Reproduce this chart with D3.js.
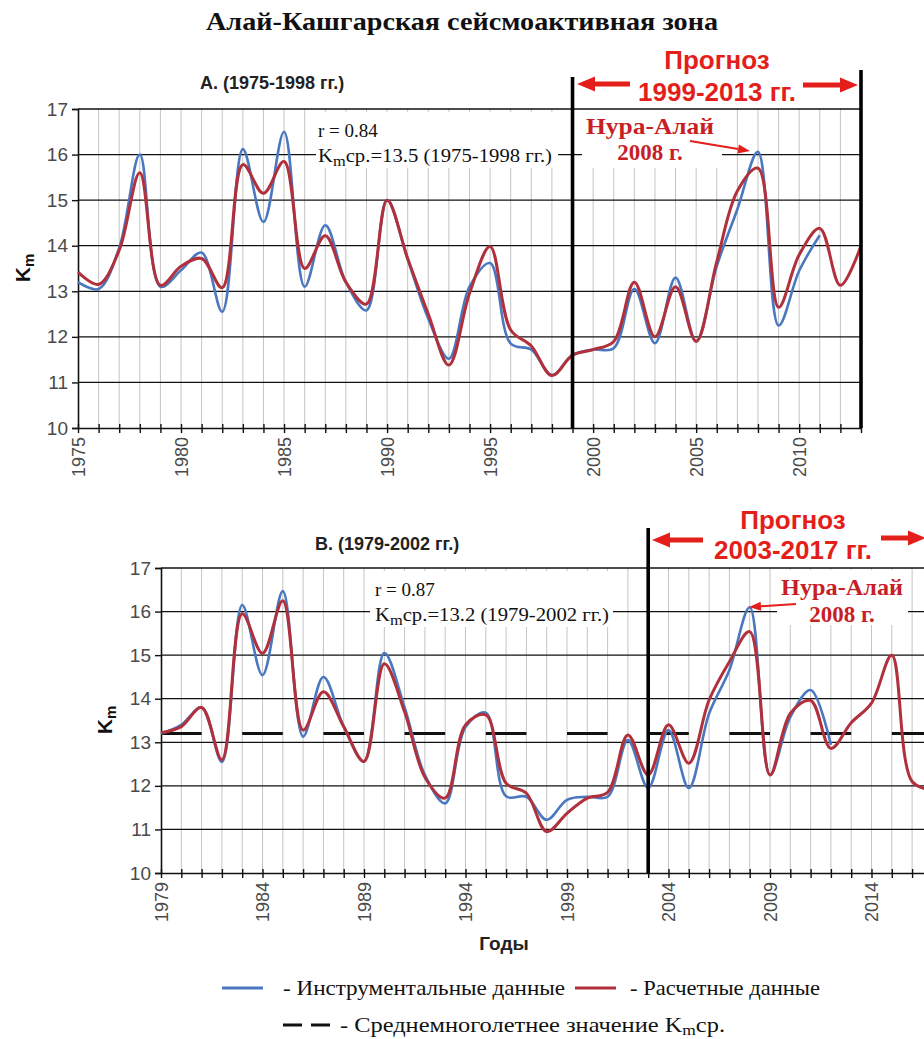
<!DOCTYPE html>
<html>
<head>
<meta charset="utf-8">
<script src="https://cdn.jsdelivr.net/npm/d3@7"></script>
<style>
  body { margin: 0; background: #fff; }
  svg { display: block; }
  .legend-text { font-family: 'Liberation Serif', 'Times New Roman', serif; font-size: 21px; fill: #111; }
</style>
</head>
<body>
<svg id="chart" width="924" height="1039"></svg>
<script>
// ---- Data ----
// Panel A: fit period 1975-1998, forecast 1999-2013
const yearsA = d3.range(1975, 2014);
const measuredA = [13.2, 13.05, 13.95, 16.0, 13.1, 13.46, 13.85, 12.55, 16.12, 14.52,
  16.5, 13.1, 14.45, 13.2, 12.58, 15.0, 13.7, 12.4, 11.52, 13.1,
  13.62, 11.85, 11.72, 11.16, 11.6, 11.72, 11.75, 13.05, 11.86, 13.3,
  11.9, 13.55, 14.8, 16.06, 12.25, 13.45, 14.23];
const modelA = [13.42, 13.15, 13.9, 15.6, 13.13, 13.55, 13.72, 13.08, 15.78, 15.15,
  15.85, 13.5, 14.22, 13.2, 12.72, 15.0, 13.72, 12.5, 11.38, 12.95,
  13.98, 12.15, 11.8, 11.15, 11.6, 11.72, 11.9, 13.2, 12.0, 13.1,
  11.9, 13.65, 15.2, 15.7, 12.65, 13.8, 14.38, 13.13, 14.0];

// Panel B: fit period 1979-2002, forecast 2003-2017
const yearsB = d3.range(1979, 2018);
const measuredB = [13.2, 13.4, 13.8, 12.55, 16.15, 14.54, 16.47, 13.13, 14.5, 13.36,
  12.56, 15.05, 13.8, 12.25, 11.6, 13.35, 13.68, 11.76, 11.75, 11.22,
  11.68, 11.75, 11.75, 13.05, 11.95, 13.28, 11.95, 13.66, 14.66, 16.1,
  12.25, 13.58, 14.2, 12.94];
const modelB = [13.22, 13.36, 13.8, 12.6, 15.95, 15.04, 16.25, 13.28, 14.16, 13.36,
  12.56, 14.8, 13.7, 12.2, 11.72, 13.4, 13.63, 12.06, 11.83, 10.95,
  11.37, 11.72, 11.85, 13.17, 12.25, 13.4, 12.52, 13.97, 14.85, 15.54,
  12.25, 13.66, 13.96, 12.86, 13.45, 13.9, 15.0, 12.1, 11.9];
const meanB = 13.2;

const kTicks = [10, 11, 12, 13, 14, 15, 16, 17];
const labelYearsA = [1975, 1980, 1985, 1990, 1995, 2000, 2005, 2010];
const labelYearsB = [1979, 1984, 1989, 1994, 1999, 2004, 2009, 2014];

// ---- Style ----
const BLUE = "#4a78c0";
const RED = "#b0303c";
const ALERT = "#e41f1b";
const EVENT = "#c81e26";
const SANS = "Arial, 'Liberation Sans', sans-serif";
const SERIF = "'Liberation Serif', 'Times New Roman', serif";

const svg = d3.select("#chart");

// Title
svg.append("text")
  .attr("x", 206).attr("y", 30)
  .attr("font-family", SERIF).attr("font-weight", "bold").attr("font-size", 25)
  .attr("textLength", 512).attr("lengthAdjust", "spacingAndGlyphs")
  .attr("fill", "#111")
  .text("Алай-Кашгарская сейсмоактивная зона");

function drawPanel(o) {
  const g = svg.append("g");
  const x = d3.scaleLinear().domain(o.xDomain).range(o.xRange);
  const y = d3.scaleLinear().domain([10, 17]).range(o.yRange);
  const allYears = d3.range(o.xDomain[0], o.xDomain[1] + 1);

  // vertical grid
  g.append("g").selectAll("line")
    .data(allYears.slice(1))
    .join("line")
    .attr("x1", d => x(d)).attr("x2", d => x(d))
    .attr("y1", y(10)).attr("y2", y(17))
    .attr("stroke", "#c4c4c4").attr("stroke-width", 1);

  // horizontal grid
  g.append("g").selectAll("line")
    .data(kTicks.slice(1))
    .join("line")
    .attr("x1", x(o.xDomain[0])).attr("x2", x(o.xDomain[1]))
    .attr("y1", d => y(d)).attr("y2", d => y(d))
    .attr("stroke", "#111").attr("stroke-width", 1.3);

  // white backing behind annotations
  o.boxes.forEach(b => {
    g.append("rect").attr("x", b[0]).attr("y", b[1]).attr("width", b[2]).attr("height", b[3])
      .attr("fill", "#fff");
  });

  // mean level
  if (o.mean != null) {
    const dash = x(o.xDomain[0] + 2) - x(o.xDomain[0]);
    g.append("line")
      .attr("x1", x(o.xDomain[0])).attr("x2", x(o.xDomain[1]))
      .attr("y1", y(o.mean)).attr("y2", y(o.mean))
      .attr("stroke", "#111").attr("stroke-width", 3)
      .attr("stroke-dasharray", `${dash},${dash}`);
  }

  // x axis
  const xAxis = d3.axisBottom(x)
    .tickValues(allYears)
    .tickSize(0)
    .tickFormat(d => o.labelYears.includes(d) ? String(d) : "");
  const xa = g.append("g").attr("transform", `translate(0,${y(10)})`).call(xAxis);
  xa.select(".domain").attr("stroke", "#111").attr("stroke-width", 1.6);
  xa.selectAll(".tick line").attr("y1", -4).attr("y2", 5).attr("stroke", "#111").attr("stroke-width", 1.4);
  xa.selectAll(".tick text")
    .attr("transform", "rotate(-90)")
    .attr("text-anchor", "end")
    .attr("x", -9).attr("y", 0).attr("dy", "0.36em")
    .attr("font-family", SANS).attr("font-size", 18).attr("fill", "#4a4a4a");

  // y axis
  const yAxis = d3.axisLeft(y).tickValues(kTicks).tickSize(6).tickPadding(4).tickFormat(d3.format("d"));
  const ya = g.append("g").attr("transform", `translate(${x(o.xDomain[0])},0)`).call(yAxis);
  ya.select(".domain").attr("stroke", "#111").attr("stroke-width", 1.6);
  ya.selectAll(".tick line").attr("stroke", "#111").attr("stroke-width", 1.4);
  ya.selectAll(".tick text").attr("font-family", SANS).attr("font-size", 19).attr("fill", "#4a4a4a");

  // y title K_m
  const yt = g.append("text")
    .attr("transform", `translate(${o.yTitle[0]},${o.yTitle[1]}) rotate(-90)`)
    .attr("text-anchor", "middle")
    .attr("font-family", SANS).attr("font-weight", "bold").attr("font-size", 21).attr("fill", "#111");
  yt.append("tspan").text("K");
  yt.append("tspan").attr("font-size", 15).attr("dy", 4).text("m");

  // series
  const line = d3.line()
    .x((d, i) => x(o.years[i]))
    .y(d => y(d))
    .curve(d3.curveCatmullRom.alpha(0.5));
  g.append("path").datum(o.measured)
    .attr("d", line).attr("fill", "none")
    .attr("stroke", BLUE).attr("stroke-width", 2.6).attr("stroke-linejoin", "round");
  g.append("path").datum(o.model)
    .attr("d", line).attr("fill", "none")
    .attr("stroke", RED).attr("stroke-width", 3).attr("stroke-linejoin", "round");

  // forecast boundaries
  o.bounds.forEach(b => {
    g.append("line")
      .attr("x1", x(b[0])).attr("x2", x(b[0]))
      .attr("y1", b[1]).attr("y2", y(10))
      .attr("stroke", "#000").attr("stroke-width", 3.6);
  });

  // panel caption
  g.append("text").attr("x", o.caption[0]).attr("y", o.caption[1])
    .attr("font-family", SANS).attr("font-weight", "bold").attr("font-size", 18).attr("fill", "#222")
    .text(o.captionText);

  // correlation and mean text
  const tx = o.stats[0], ty = o.stats[1];
  g.append("text").attr("x", tx).attr("y", ty)
    .attr("font-family", SERIF).attr("font-size", 19).attr("fill", "#111")
    .text(o.rText);
  const km = g.append("text").attr("x", tx).attr("y", ty + 25)
    .attr("font-family", SERIF).attr("font-size", 19).attr("fill", "#111")
    .attr("textLength", 234).attr("lengthAdjust", "spacingAndGlyphs");
  km.append("tspan").text("K");
  km.append("tspan").attr("font-size", 15).attr("dy", 4).text("m");
  km.append("tspan").attr("dy", -4).text(o.meanText);

  // forecast header with arrows
  const fx = o.forecast;
  g.append("text").attr("x", fx.cx).attr("y", fx.y1).attr("text-anchor", "middle")
    .attr("font-family", SANS).attr("font-weight", "bold").attr("font-size", 26).attr("fill", ALERT)
    .text("Прогноз");
  g.append("text").attr("x", fx.cx).attr("y", fx.y2).attr("text-anchor", "middle")
    .attr("font-family", SANS).attr("font-weight", "bold").attr("font-size", 26).attr("fill", ALERT)
    .text(fx.label);
  fx.arrows.forEach(a => bigArrow(g, a[0], a[1], a[2]));

  // event annotation
  const ev = o.event;
  g.append("text").attr("x", ev.cx).attr("y", ev.y1).attr("text-anchor", "middle")
    .attr("font-family", SERIF).attr("font-weight", "bold").attr("font-size", 23).attr("fill", EVENT)
    .attr("textLength", ev.w).attr("lengthAdjust", "spacingAndGlyphs")
    .text("Нура-Алай");
  g.append("text").attr("x", ev.cx).attr("y", ev.y2).attr("text-anchor", "middle")
    .attr("font-family", SERIF).attr("font-weight", "bold").attr("font-size", 23).attr("fill", EVENT)
    .text("2008 г.");
  thinArrow(g, ev.arrow[0], ev.arrow[1], ev.arrow[2], ev.arrow[3]);
}

function bigArrow(g, tail, head, yc) {
  const dir = Math.sign(head - tail);
  const hl = 18, hw = 7.5, sw = 2.6;
  const base = head - dir * hl;
  const pts = [
    [tail, yc - sw], [base, yc - sw], [base, yc - hw], [head, yc],
    [base, yc + hw], [base, yc + sw], [tail, yc + sw]
  ];
  g.append("path").attr("d", d3.line()(pts) + "Z").attr("fill", ALERT);
}

function thinArrow(g, x1, y1, x2, y2) {
  const ang = Math.atan2(y2 - y1, x2 - x1);
  const hl = 12, hw = 4.5;
  const bx = x2 - hl * Math.cos(ang), by = y2 - hl * Math.sin(ang);
  g.append("line").attr("x1", x1).attr("y1", y1).attr("x2", bx).attr("y2", by)
    .attr("stroke", ALERT).attr("stroke-width", 2);
  const pts = [
    [x2, y2],
    [bx + hw * Math.sin(ang), by - hw * Math.cos(ang)],
    [bx - hw * Math.sin(ang), by + hw * Math.cos(ang)]
  ];
  g.append("path").attr("d", d3.line()(pts) + "Z").attr("fill", ALERT);
}

drawPanel({
  xDomain: [1975, 2013], xRange: [78, 861], yRange: [428, 109],
  years: yearsA, measured: measuredA, model: modelA, mean: null,
  labelYears: labelYearsA,
  yTitle: [30, 268],
  boxes: [[316, 112, 242, 56], [582, 110, 140, 58]],
  bounds: [[1999, 77], [2013, 70]],
  caption: [200, 89], captionText: "А. (1975-1998 гг.)",
  stats: [318, 137], rText: "r = 0.84", meanText: "ср.=13.5 (1975-1998 гг.)",
  forecast: { cx: 717, y1: 69, y2: 101, label: "1999-2013 гг.",
    arrows: [[630, 577, 84], [803, 858, 85]] },
  event: { cx: 650, y1: 134, y2: 160, w: 128, arrow: [690, 141, 750, 151] }
});

drawPanel({
  xDomain: [1979, 2017], xRange: [161, 932.4], yRange: [873, 568],
  years: yearsB, measured: measuredB, model: modelB, mean: meanB,
  labelYears: labelYearsB,
  yTitle: [112, 720],
  boxes: [[370, 571, 243, 56], [777, 570, 131, 55]],
  bounds: [[2003, 528]],
  caption: [315, 550], captionText: "В. (1979-2002 гг.)",
  stats: [375, 596], rText: "r = 0.87", meanText: "ср.=13.2 (1979-2002 гг.)",
  forecast: { cx: 793, y1: 529, y2: 559, label: "2003-2017 гг.",
    arrows: [[703, 652, 540], [881, 926, 538]] },
  event: { cx: 842, y1: 595, y2: 622, w: 122, arrow: [796, 604, 749, 607] }
});

// x-axis title
svg.append("text").attr("x", 504).attr("y", 950).attr("text-anchor", "middle")
  .attr("font-family", SANS).attr("font-weight", "bold").attr("font-size", 19).attr("fill", "#222")
  .text("Годы");

// legend
const lg = svg.append("g");
lg.append("line").attr("x1", 222).attr("x2", 263).attr("y1", 988).attr("y2", 988)
  .attr("stroke", BLUE).attr("stroke-width", 3);
lg.append("text").attr("class", "legend-text").attr("x", 283).attr("y", 995)
  .attr("textLength", 282).attr("lengthAdjust", "spacingAndGlyphs")
  .text("- Инструментальные данные");
lg.append("line").attr("x1", 575).attr("x2", 616).attr("y1", 988).attr("y2", 988)
  .attr("stroke", RED).attr("stroke-width", 3);
lg.append("text").attr("class", "legend-text").attr("x", 630).attr("y", 995)
  .attr("textLength", 190).attr("lengthAdjust", "spacingAndGlyphs")
  .text("- Расчетные данные");
lg.append("line").attr("x1", 283).attr("x2", 331).attr("y1", 1025).attr("y2", 1025)
  .attr("stroke", "#111").attr("stroke-width", 3).attr("stroke-dasharray", "19,9");
const lt = lg.append("text").attr("class", "legend-text").attr("x", 340).attr("y", 1032)
  .attr("textLength", 385).attr("lengthAdjust", "spacingAndGlyphs");
lt.append("tspan").text("- Среднемноголетнее значение K");
lt.append("tspan").attr("font-size", 15).attr("dy", 3).text("m");
lt.append("tspan").attr("dy", -3).text("ср.");
</script>
</body>
</html>
